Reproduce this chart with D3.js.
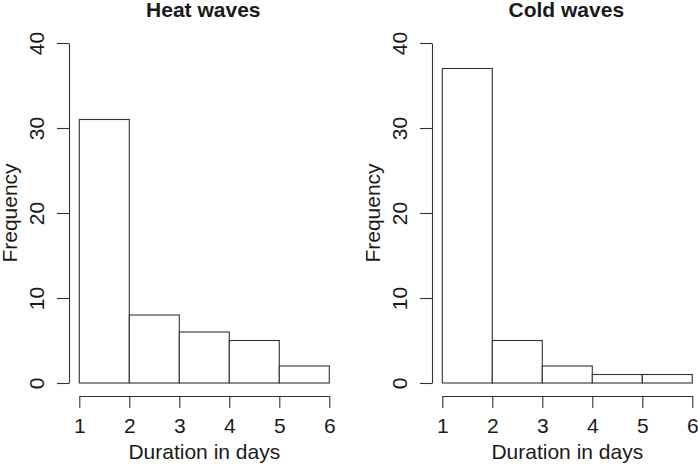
<!DOCTYPE html>
<html>
<head>
<meta charset="utf-8">
<script src="https://cdn.jsdelivr.net/npm/d3@7"></script>
<style>
  html, body { margin: 0; padding: 0; background: #fff; }
  svg { display: block; }
  text { font-family: "Liberation Sans", Arial, Helvetica, sans-serif; fill: #1a1a1a; }
</style>
</head>
<body>
<svg id="chart" width="698" height="466"></svg>
<script>
// ---- data ----
const titles = ["Heat waves", "Cold waves"];
const binEdges = [1, 2, 3, 4, 5, 6];
const heatCounts = [31, 8, 6, 5, 2];
const coldCounts = [37, 5, 2, 1, 1];
const yTicks = [0, 10, 20, 30, 40];
const xTicks = [1, 2, 3, 4, 5, 6];
const xLabel = "Duration in days";
const yLabel = "Frequency";

const svg = d3.select("#chart");
const panels = [
  { title: titles[0], counts: heatCounts, offset: 0 },
  { title: titles[1], counts: coldCounts, offset: 363 }
];

const FS = 21;
const stroke = "#333";
const fmt = d3.format("d");

panels.forEach(p => {
  const g = svg.append("g").attr("transform", `translate(${p.offset},0)`);
  const x = d3.scaleLinear().domain([1, 6]).range([79.3, 329.3]);
  const y = d3.scaleLinear().domain([0, 40]).range([383, 43]);

  const bins = p.counts.map((c, i) => ({ x0: binEdges[i], x1: binEdges[i + 1], c }));

  // bars
  g.selectAll("rect.bar").data(bins).enter().append("rect")
    .attr("class", "bar")
    .attr("x", d => x(d.x0))
    .attr("y", d => y(d.c))
    .attr("width", d => x(d.x1) - x(d.x0))
    .attr("height", d => y(0) - y(d.c))
    .attr("fill", "#fff")
    .attr("stroke", stroke)
    .attr("stroke-width", 1.1);

  // y axis
  const ya = g.append("g").attr("transform", "translate(69,0)")
    .call(d3.axisLeft(y).tickValues(yTicks).tickFormat(fmt).tickSize(12).tickSizeOuter(0));
  ya.select(".domain").attr("stroke", stroke).attr("stroke-width", 1.1);
  ya.selectAll(".tick line").attr("stroke", stroke).attr("stroke-width", 1.1);
  ya.selectAll(".tick text")
    .attr("x", null).attr("dy", null)
    .attr("transform", "translate(-25,0) rotate(-90)")
    .attr("text-anchor", "middle")
    .attr("fill", "#1a1a1a")
    .style("font-size", FS + "px")
    .style("font-family", '"Liberation Sans", Arial, sans-serif');

  // x axis
  const xa = g.append("g").attr("transform", "translate(0,396)")
    .call(d3.axisBottom(x).tickValues(xTicks).tickFormat(fmt).tickSize(12).tickSizeOuter(0));
  xa.select(".domain").attr("stroke", stroke).attr("stroke-width", 1.1);
  xa.selectAll(".tick line").attr("stroke", stroke).attr("stroke-width", 1.1);
  xa.selectAll(".tick text")
    .attr("y", 37).attr("dy", null)
    .attr("fill", "#1a1a1a")
    .style("font-size", FS + "px")
    .style("font-family", '"Liberation Sans", Arial, sans-serif');

  // axis titles
  g.append("text")
    .attr("x", (x(1) + x(6)) / 2).attr("y", 459)
    .attr("text-anchor", "middle")
    .style("font-size", FS + "px")
    .text(xLabel);

  g.append("text")
    .attr("transform", `translate(17,${(y(0) + y(40)) / 2}) rotate(-90)`)
    .attr("text-anchor", "middle")
    .style("font-size", FS + "px")
    .text(yLabel);

  // main title
  g.append("text")
    .attr("x", (x(1) + x(6)) / 2 - 1).attr("y", 16.5)
    .attr("text-anchor", "middle")
    .style("font-size", FS + "px")
    .style("font-weight", "bold")
    .text(p.title);
});
</script>
</body>
</html>
